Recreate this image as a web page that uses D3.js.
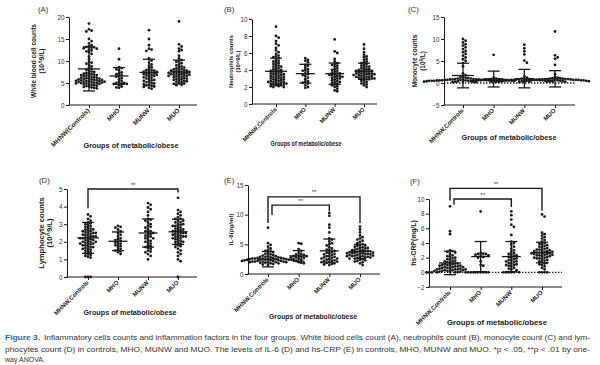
<!DOCTYPE html>
<html><head><meta charset="utf-8">
<script src="https://cdn.jsdelivr.net/npm/d3@7"></script>
<style>body{margin:0;background:#fff}svg{display:block;font-family:"Liberation Sans",Arial,sans-serif}</style>
</head><body><svg id="c" width="600" height="365"></svg>
<script>
// ---------------- DATA ----------------
const groups = ["MHNW,Controls","MHO","MUNW","MUO"];
const groupsA = ["MHNW(Controls)","MHO","MUNW","MUO"];

// (A) White blood cell counts
const wbcMHNW = [18.5,17.2,16.9,16.7,15.0,14.5,14.0,13.6,13.3,13.2,13.1,13.0,12.9,12.8,12.6,12.4,12.2,12.0,11.6,11.0,10.4,9.8,9.6,9.4,9.1,8.8,8.5,8.2,8.0,7.8,7.6,7.5,7.3,7.2,7.0,6.9,6.8,6.7,6.6,6.5,6.4,6.3,6.2,6.1,6.0,6.0,5.9,5.8,5.8,5.7,5.6,5.6,5.5,5.5,5.4,5.4,5.3,5.3,5.2,5.2,5.1,5.1,5.0,5.0,4.9,4.9,4.8,4.8,4.7,4.6,4.5,4.4,4.3,4.2,4.1,4.0,3.9,3.8,5.7,6.2,6.8,7.1];
const wbcMHO = [12.8,10.4,8.6,8.4,8.1,7.9,7.4,7.2,7.0,6.8,6.6,6.4,6.1,5.8,5.5,5.2,5.0,5.0,4.9,4.8,4.8,4.5,4.2,4.0,3.9];
const wbcMUNW = [17.0,15.0,13.6,12.8,12.6,12.3,10.6,10.1,9.6,9.2,8.9,8.6,8.3,8.0,7.9,7.8,7.6,7.5,7.4,7.3,7.2,7.1,7.0,6.9,6.8,6.6,6.5,6.3,6.2,6.0,5.9,5.7,5.6,5.5,5.3,5.2,5.0,4.9,4.8,4.6,4.5,4.4,4.2,4.1,3.9,3.7,7.7,6.7];
const wbcMUO = [19.0,13.8,13.3,12.8,12.5,12.2,11.2,10.6,10.2,10.0,9.8,9.5,9.2,9.0,8.8,8.6,8.5,8.3,8.2,8.0,7.9,7.8,7.7,7.6,7.5,7.4,7.3,7.3,7.2,7.1,7.0,7.0,6.9,6.8,6.7,6.6,6.5,6.4,6.3,6.2,6.1,6.0,5.9,5.8,5.7,5.6,5.5,5.4,5.3,5.2,5.0,4.9,4.8,4.6,4.5,7.5,7.8,8.1,6.6,6.9];
const wbcMean = [8.2,6.6,7.4,7.5];
const wbcSD = [5.0,1.9,3.0,2.7];

// (B) Neutrophils counts
const neuMHNW = [9.1,8.0,7.8,7.4,7.1,6.9,6.6,6.3,6.1,5.9,5.7,5.6,5.5,5.4,5.2,5.1,5.0,4.9,4.8,4.7,4.6,4.5,4.4,4.3,4.2,4.1,4.0,3.9,3.9,3.8,3.7,3.6,3.6,3.5,3.4,3.4,3.3,3.2,3.2,3.1,3.0,3.0,2.9,2.9,2.8,2.7,2.7,2.6,2.6,2.5,2.5,2.4,2.4,2.3,2.3,2.2,2.2,2.1,2.1,2.0,2.0,3.5,3.3,2.8,3.1,2.6,4.0,4.4,3.7,2.4];
const neuMHO = [5.4,5.2,5.1,4.9,4.6,4.5,4.3,4.1,3.9,3.8,3.6,3.5,3.3,3.1,2.9,2.7,2.6,2.5,2.4,2.2,2.0,1.9,3.4,4.0];
const neuMUNW = [7.6,6.2,6.0,5.3,5.0,4.8,4.7,4.5,4.4,4.2,4.0,3.9,3.8,3.7,3.6,3.5,3.4,3.3,3.3,3.2,3.1,3.0,3.0,2.9,2.8,2.7,2.6,2.5,2.4,2.3,2.2,2.1,2.0,1.8,1.6,1.5,3.6,4.1,2.6,3.2,4.6,3.4];
const neuMUO = [7.0,6.5,6.1,5.8,5.6,5.5,5.3,5.2,5.0,4.9,4.8,4.7,4.6,4.5,4.4,4.3,4.2,4.1,4.0,4.0,3.9,3.9,3.8,3.8,3.7,3.7,3.6,3.6,3.5,3.5,3.4,3.4,3.3,3.3,3.2,3.2,3.1,3.1,3.0,3.0,2.9,2.8,2.7,2.6,2.5,2.4,2.3,2.2,2.0,4.1,3.6,3.4,3.9,3.2,3.5,4.4,3.0,2.9];
const neuMean = [3.85,3.57,3.57,3.85];
const neuSD = [1.55,1.1,1.25,0.95];

// (C) Monocyte counts
const monMHNW = [10.0,9.6,9.2,8.8,8.5,8.1,7.7,7.3,7.0,6.6,6.2,5.8,5.4,5.0,4.5,3.8,2.2,1.8,1.5,1.3,1.2,1.1,1.0,1.0,0.9,0.9,0.9,0.8,0.8,0.8,0.7,0.7,0.7,0.7,0.6,0.6,0.6,0.6,0.5,0.5,0.5,0.5,0.5,0.4,0.4,0.4,0.4,0.3,0.3,0.3,0.2,0.2,0.6,0.5,0.7,0.4,0.3,0.8,0.6,0.5];
const monMHO = [6.4,1.2,1.0,0.9,0.9,0.8,0.8,0.7,0.7,0.7,0.6,0.6,0.6,0.5,0.5,0.5,0.4,0.4,0.3,0.3,0.8,0.6];
const monMUNW = [8.7,7.9,7.2,6.5,5.1,4.6,1.5,1.2,1.0,0.9,0.9,0.8,0.8,0.7,0.7,0.7,0.6,0.6,0.6,0.5,0.5,0.5,0.5,0.4,0.4,0.4,0.3,0.3,0.3,0.2,0.6,0.7,0.5,0.8,0.4];
const monMUO = [11.7,6.3,5.8,5.5,4.1,2.0,1.4,1.2,1.1,1.0,1.0,0.9,0.9,0.9,0.8,0.8,0.8,0.7,0.7,0.7,0.7,0.6,0.6,0.6,0.6,0.5,0.5,0.5,0.5,0.4,0.4,0.4,0.3,0.3,0.8,0.6,0.9,0.7,0.5,1.1];
const monMean = [1.7,0.9,1.0,0.95];
const monSD = [2.8,1.8,2.1,1.85];

// (D) Lymphocyte counts
const lymMHNW = [3.55,3.45,3.3,3.2,3.1,3.05,3.0,2.95,2.9,2.85,2.8,2.75,2.7,2.65,2.6,2.55,2.5,2.5,2.45,2.4,2.4,2.35,2.3,2.3,2.25,2.2,2.2,2.15,2.1,2.1,2.05,2.0,2.0,1.95,1.9,1.9,1.85,1.8,1.8,1.75,1.7,1.7,1.65,1.6,1.55,1.5,1.45,1.4,1.35,1.3,1.25,1.2,1.15,1.1,0,0,0,2.6,2.0,2.3,1.9,2.7,2.2,1.6,2.5];
const lymMHO = [2.9,2.85,2.8,2.7,2.6,2.5,2.4,2.3,2.2,2.15,2.1,2.0,1.95,1.9,1.8,1.75,1.7,1.6,1.55,1.5,1.45,1.4,1.3,2.05,1.85];
const lymMUNW = [4.2,4.1,3.95,3.85,3.7,3.5,3.3,3.25,3.2,3.1,3.0,2.9,2.85,2.8,2.7,2.6,2.55,2.5,2.45,2.4,2.35,2.3,2.25,2.2,2.1,2.05,2.0,1.95,1.9,1.8,1.75,1.7,1.65,1.6,1.5,1.45,1.4,1.3,1.2,1.0,2.6,2.2];
const lymMUO = [4.5,3.8,3.7,3.6,3.5,3.4,3.3,3.3,3.2,3.2,3.1,3.1,3.0,3.0,2.95,2.9,2.85,2.8,2.75,2.7,2.65,2.6,2.6,2.55,2.5,2.5,2.45,2.4,2.4,2.35,2.3,2.3,2.25,2.2,2.2,2.15,2.1,2.05,2.0,2.0,1.95,1.9,1.85,1.8,1.75,1.7,1.6,1.5,1.4,1.3,1.2,1.0,0.9,0,2.7,2.5,2.9,2.3];
const lymMean = [2.22,2.03,2.5,2.57];
const lymSD = [0.88,0.53,0.8,0.72];

// (E) IL-6
const il6MHNW = [7.8,5.2,4.9,4.6,4.3,4.1,3.9,3.8,3.7,3.5,3.4,3.3,3.2,3.1,3.0,3.0,2.9,2.9,2.8,2.8,2.7,2.7,2.6,2.6,2.6,2.5,2.5,2.5,2.4,2.4,2.4,2.3,2.3,2.3,2.2,2.2,2.2,2.1,2.1,2.1,2.0,2.0,2.0,1.9,1.9,1.8,1.8,1.7,1.6,1.5,2.4,2.2,2.6,2.3,2.1,2.5,2.0,2.7,2.2,2.4];
const il6MHO = [5.2,5.1,4.2,3.9,3.6,3.4,3.2,3.1,3.0,3.0,2.9,2.8,2.7,2.6,2.5,2.4,2.2,2.0,1.9,1.8,3.3,2.8];
const il6MUNW = [10.3,9.8,8.3,7.8,7.0,6.0,5.8,5.5,5.2,5.0,4.8,4.5,4.3,4.0,3.9,3.7,3.6,3.4,3.3,3.2,3.0,2.9,2.8,2.7,2.6,2.5,2.4,2.3,2.2,2.1,2.0,2.0,1.9,1.8,1.7,1.6,1.5,3.5,2.6,4.1,2.2,3.0];
const il6MUO = [8.0,7.5,7.0,6.5,6.2,6.0,5.8,5.6,5.4,5.2,5.0,4.9,4.8,4.7,4.6,4.5,4.4,4.3,4.2,4.1,4.0,4.0,3.9,3.9,3.8,3.8,3.7,3.7,3.6,3.6,3.5,3.5,3.4,3.4,3.3,3.3,3.2,3.2,3.1,3.1,3.0,3.0,2.9,2.9,2.8,2.8,2.7,2.6,2.5,2.4,2.3,2.2,2.1,2.0,1.8,1.5,4.4,3.5,3.0,2.6];
const il6Mean = [2.5,3.05,3.9,3.8];
const il6SD = [1.3,0.9,2.0,1.2];

// (F) hs-CRP
const crpMHNW = [9.0,5.6,5.2,3.0,2.9,2.8,2.7,2.5,2.3,2.1,2.0,1.9,1.8,1.7,1.6,1.5,1.4,1.3,1.2,1.2,1.1,1.0,1.0,0.9,0.9,0.8,0.8,0.7,0.7,0.6,0.6,0.5,0.5,0.5,0.4,0.4,0.4,0.3,0.3,0.3,0.2,0.2,0.2,0.1,0.1,0.1,0,0,0,0,0,0,0,0,0,0,1.5,1.1,0.7,2.2,0.9,0.4];
const crpMHO = [8.3,2.6,2.55,2.5,2.4,2.2,2.1,2.0,1.5,1.0,0.9,0,0,0,0,0,0,2.5,2.3];
const crpMUNW = [8.3,7.8,7.2,6.5,6.2,5.1,4.2,4.0,3.8,3.5,3.2,3.0,2.8,2.6,2.5,2.3,2.2,2.1,2.0,1.9,1.8,1.7,1.6,1.5,1.4,1.3,1.2,1.1,1.0,0.9,0.8,0.6,0.5,0.4,0.3,0,0,0,0,0,0,1.5,2.4,1.0];
const crpMUO = [7.9,7.6,5.4,5.2,5.0,4.8,4.6,4.4,4.2,4.0,3.9,3.8,3.7,3.6,3.5,3.4,3.3,3.2,3.1,3.0,3.0,2.9,2.9,2.8,2.8,2.7,2.7,2.6,2.6,2.5,2.5,2.4,2.4,2.3,2.3,2.2,2.1,2.0,2.0,1.9,1.8,1.7,1.6,1.5,1.4,1.3,1.2,1.1,1.0,0.8,0.6,0.4,0,0,0,0,3.1,2.6,1.9,2.2];
const crpMean = [1.28,2.15,2.15,2.7];
const crpSD = [1.6,2.05,2.05,1.4];

// tick labels
const ticksA = [0,5,10,15,20];
const ticksB = [0,2,4,6,8,10];
const ticksC = [-5,0,5,10,15];
const ticksD = [0,1,2,3,4,5];
const ticksE = [0,5,10,15];
const ticksF = [-2,0,2,4,6,8,10];

// significance brackets: [group from, group to, level value, left drop value, right drop value, label]
const bracketsD = [[0,3,5.0,3.9,4.8,"**"]];
const bracketsE = [[0,3,13.0,8.6,8.6,"**"],[0,2,11.6,9.95,10.6,"**"]];
const bracketsF = [[0,3,11.45,9.8,8.4,"**"],[0,2,10.0,9.2,8.9,"**"]];

// ---------------- LAYOUT ----------------
const panels = [
 {tag:"(A)", cats:groupsA, data:[wbcMHNW,wbcMHO,wbcMUNW,wbcMUO], mean:wbcMean, sd:wbcSD, dom:[0,20], ticks:ticksA,
  ax:69, y0:105, y1:17, xEnd:197, c:[89,179], yl:["White blood cell counts","(10^9/L)"], ylx:[35.5,44], ylfs:6.6, tagxy:[38,12],
  title:[131,148,95], catfs:6.4, zero:false, br:[]},
 {tag:"(B)", cats:groups, data:[neuMHNW,neuMHO,neuMUNW,neuMUO], mean:neuMean, sd:neuSD, dom:[0,10], ticks:ticksB,
  ax:252, y0:104, y1:19, xEnd:377, c:[276,364], yl:["Neutrophils counts","(10^9/L)"], ylx:[233,240], ylfs:5.8, tagxy:[224,12],
  title:[306,146,71], catfs:6.0, zero:false, br:[]},
 {tag:"(C)", cats:groups, data:[monMHNW,monMHO,monMUNW,monMUO], mean:monMean, sd:monSD, dom:[-5,15], ticks:ticksC,
  ax:444, y0:105, y1:17, xEnd:575, c:[463,555], yl:["Monocyte counts","SUP"], ylx:[417,425], ylfs:6.4, tagxy:[408,12],
  title:[509,140,95], catfs:6.1, zero:true, br:[]},
 {tag:"(D)", cats:groups, data:[lymMHNW,lymMHO,lymMUNW,lymMUO], mean:lymMean, sd:lymSD, dom:[0,5], ticks:ticksD,
  ax:67, y0:277, y1:189, xEnd:197, c:[88,178], yl:["Lymphocyte counts","(10^9/L)"], ylx:[44,52], ylfs:7.6, tagxy:[39,183],
  title:[130,315,93], catfs:6.1, zero:false, br:bracketsD},
 {tag:"(E)", cats:groups, data:[il6MHNW,il6MHO,il6MUNW,il6MUO], mean:il6Mean, sd:il6SD, dom:[0,15], ticks:ticksE,
  ax:248, y0:274, y1:185, xEnd:380, c:[268,360], yl:["IL-6(pg/ml)"], ylx:[233], ylfs:6.2, tagxy:[224,183],
  title:[313,319,88], catfs:6.1, zero:false, br:bracketsE},
 {tag:"(F)", cats:groups, data:[crpMHNW,crpMHO,crpMUNW,crpMUO], mean:crpMean, sd:crpSD, dom:[-2,10], ticks:ticksF,
  ax:429, y0:287, y1:199, xEnd:562, c:[450,542], yl:["hs-CRP(mg/L)"], ylx:[416], ylfs:6.8, tagxy:[410,184],
  title:[497,325,100], catfs:6.1, zero:true, br:bracketsF}
];

const svg = d3.select("#c");
const ink = "#1a1a1a";
const fmt = d3.format("~g");

panels.forEach(p => {
  const g = svg.append("g");
  const y = d3.scaleLinear().domain(p.dom).range([p.y0, p.y1]);
  const x = d3.scalePoint().domain(p.cats).range(p.c);

  if (p.zero) {
    g.append("line").attr("x1", p.ax).attr("x2", p.xEnd).attr("y1", y(0)).attr("y2", y(0))
      .attr("stroke", ink).attr("stroke-width", 1.3).attr("stroke-dasharray", "1.4,1.6");
  }

  const ya = g.append("g").attr("transform", `translate(${p.ax},0)`)
    .call(d3.axisLeft(y).tickValues(p.ticks).tickFormat(fmt).tickSize(3).tickSizeOuter(0).tickPadding(1.5));
  ya.selectAll("text").attr("font-size", 6.3).attr("fill", "#333").attr("font-family", "Liberation Sans, Arial, sans-serif");
  ya.selectAll("line,path").attr("stroke", ink).attr("stroke-width", 1);

  const xa = g.append("g").attr("transform", `translate(0,${p.y0})`)
    .call(d3.axisBottom(x).tickSize(3).tickSizeOuter(0).tickFormat(""));
  xa.select(".domain").remove();
  xa.selectAll("line").attr("stroke", ink).attr("stroke-width", 1);
  g.append("line").attr("x1", p.ax - 0.5).attr("x2", p.xEnd).attr("y1", p.y0).attr("y2", p.y0)
    .attr("stroke", ink).attr("stroke-width", 1);

  p.cats.forEach(cat => {
    g.append("text").text(cat)
      .attr("transform", `translate(${x(cat) + 1},${p.y0 + 6}) rotate(-45)`)
      .attr("text-anchor", "end").attr("font-size", p.catfs).attr("font-weight", "bold").attr("fill", "#222");
  });

  const s = 2.6;
  p.data.forEach((vals, i) => {
    const cx = x(p.cats[i]);
    const pts = vals.map(v => ({v, y: y(v)})).sort((a, b) => a.y - b.y);
    const placed = [];
    pts.forEach(pt => {
      let off = 0;
      for (let k = 0; k < 40; k++) {
        const o = (k % 2 === 1 ? 1 : -1) * Math.ceil(k / 2) * s;
        const ok = placed.every(q => Math.abs(q.y - pt.y) >= s || (q.x - o) ** 2 + (q.y - pt.y) ** 2 >= s * s * 0.92);
        if (ok) { off = o; break; }
      }
      pt.x = off; placed.push(pt);
    });
    g.selectAll(null).data(placed).enter().append("circle")
      .attr("cx", d => cx + d.x).attr("cy", d => d.y).attr("r", 1.4).attr("fill", ink);

    const m = p.mean[i], sd = p.sd[i];
    const mw = i === 0 ? 11 : 9.5, cw = 6;
    const bar = g.append("g").attr("stroke", ink).attr("stroke-width", 1.3);
    bar.append("line").attr("x1", cx - mw).attr("x2", cx + mw).attr("y1", y(m)).attr("y2", y(m));
    bar.append("line").attr("x1", cx).attr("x2", cx).attr("y1", y(m - sd)).attr("y2", y(m + sd));
    bar.append("line").attr("x1", cx - cw).attr("x2", cx + cw).attr("y1", y(m + sd)).attr("y2", y(m + sd));
    bar.append("line").attr("x1", cx - cw).attr("x2", cx + cw).attr("y1", y(m - sd)).attr("y2", y(m - sd));
  });

  p.br.forEach((b, j) => {
    const xl = x(p.cats[b[0]]) + (j === 1 ? 4 : 0), xr = x(p.cats[b[1]]);
    const yl = y(b[2]);
    g.append("path").attr("d", `M${xl},${y(b[3])}V${yl}H${xr}V${y(b[4])}`)
      .attr("fill", "none").attr("stroke", ink).attr("stroke-width", 1.4);
    g.append("text").text(b[5]).attr("x", (xl + xr) / 2).attr("y", yl - 2.5)
      .attr("text-anchor", "middle").attr("font-size", 6).attr("fill", "#333");
  });

  const midY = (p.y0 + p.y1) / 2;
  p.yl.forEach((t, k) => {
    const tx = g.append("text").attr("transform", `translate(${p.ylx[k]},${midY}) rotate(-90)`)
      .attr("text-anchor", "middle").attr("font-size", p.ylfs).attr("font-weight", "bold").attr("fill", "#222");
    if (t === "SUP") {
      tx.append("tspan").text("(10");
      tx.append("tspan").text("9").attr("font-size", p.ylfs * 0.7).attr("dy", -2.5);
      tx.append("tspan").text("/L)").attr("dy", 2.5);
    } else tx.text(t);
  });

  g.append("text").text(p.tag).attr("x", p.tagxy[0]).attr("y", p.tagxy[1])
    .attr("font-size", 7.8).attr("fill", "#333");

  g.append("text").text("Groups of metabolic/obese").attr("x", p.title[0]).attr("y", p.title[1])
    .attr("text-anchor", "middle").attr("font-size", 7.2).attr("font-weight", "bold").attr("fill", "#222")
    .attr("textLength", p.title[2]).attr("lengthAdjust", "spacingAndGlyphs");
});

const cap = svg.append("g").attr("font-size", 7.4).attr("fill", "#333");
cap.append("text").text("Figure 3.").attr("x", 5).attr("y", 339.5).attr("fill", "#2767b0").attr("font-weight", "bold")
  .attr("textLength", 35).attr("lengthAdjust", "spacingAndGlyphs");
cap.append("text").text("Inflammatory cells counts and inflammation factors in the four groups. White blood cells count (A), neutrophils count (B), monocyte count (C) and lym-")
  .attr("x", 44).attr("y", 339.5).attr("textLength", 546).attr("lengthAdjust", "spacingAndGlyphs");
cap.append("text").text("phocytes count (D) in controls, MHO, MUNW and MUO. The levels of IL-6 (D) and hs-CRP (E) in controls, MHO, MUNW and MUO. *p < .05, **p < .01 by one-")
  .attr("x", 5).attr("y", 351.5).attr("textLength", 585).attr("lengthAdjust", "spacingAndGlyphs");
cap.append("text").text("way ANOVA.").attr("x", 5).attr("y", 362).attr("textLength", 40).attr("lengthAdjust", "spacingAndGlyphs");
</script></body></html>
